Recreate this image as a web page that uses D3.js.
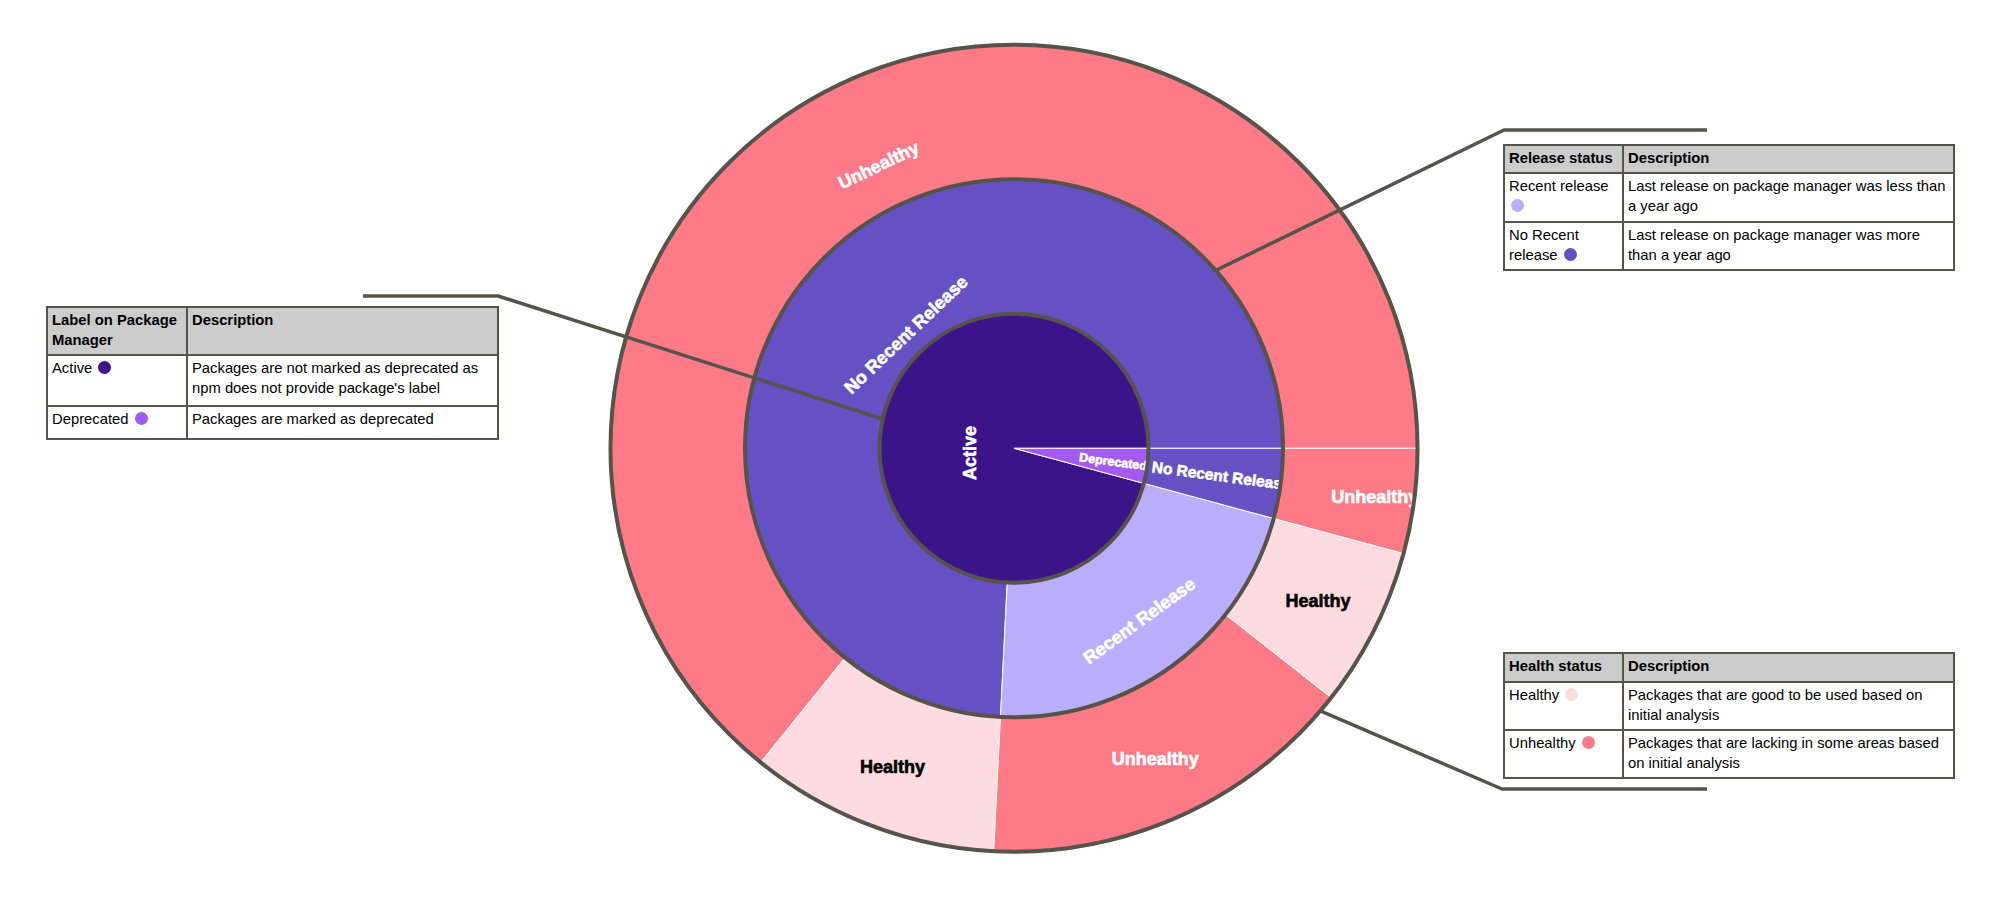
<!DOCTYPE html>
<html>
<head>
<meta charset="utf-8">
<script src="https://cdn.jsdelivr.net/npm/d3@7"></script>
<style>
  html, body { margin: 0; padding: 0; background: #fff; }
  #wrap { position: relative; width: 1999px; height: 919px; overflow: hidden; }
  svg { position: absolute; left: 0; top: 0; }
  table.legend {
    position: absolute;
    border-collapse: collapse;
    table-layout: fixed;
    font-family: "Liberation Sans", Arial, sans-serif;
    font-size: 14.8px;
    line-height: 20px;
    color: #000;
    background: #fff;
  }
  table.legend th, table.legend td {
    border: 2px solid #55534a;
    padding: 2px 4px;
    vertical-align: top;
    text-align: left;
    box-sizing: border-box;
  }
  table.legend th { background: #cccccc; font-weight: bold; }
  .dot { display: inline-block; width: 13px; height: 13px; border-radius: 50%; vertical-align: -1px; margin-left: 2px; }
</style>
</head>
<body>
<div id="wrap">
  <svg id="chart"></svg>
</div>
<script>
// Data: share of packages (%) per path
const PATHS = [
    ['Active', 'No Recent Release', 'Unhealthy'],
    ['Active', 'No Recent Release', 'Healthy'],
    ['Active', 'Recent Release', 'Unhealthy'],
    ['Active', 'Recent Release', 'Healthy'],
    ['Deprecated', 'No Recent Release', 'Unhealthy']
];
const VALUES = [64.2, 10.0, 15.2, 6.4, 4.2];

const COLORS = {
    'Active': '#3c1489',
    'Deprecated': '#a25af3',
    'No Recent Release': '#6551c3',
    'Recent Release': '#baaefc',
    'Unhealthy': '#fe7a87',
    'Healthy': '#fedbdf'
};

// Legend tables
const PKG_HEAD = ['Label on Package Manager', 'Description'];
const PKG_ROWS = [
    ['Active', 'Packages are not marked as deprecated as npm does not provide package\'s label', 'Active'],
    ['Deprecated', 'Packages are marked as deprecated', 'Deprecated']
];
const REL_HEAD = ['Release status', 'Description'];
const REL_ROWS = [
    ['Recent release', 'Last release on package manager was less than a year ago', 'Recent Release'],
    ['No Recent release', 'Last release on package manager was more than a year ago', 'No Recent Release']
];
const HEALTH_HEAD = ['Health status', 'Description'];
const HEALTH_ROWS = [
    ['Healthy', 'Packages that are good to be used based on initial analysis', 'Healthy'],
    ['Unhealthy', 'Packages that are lacking in some areas based on initial analysis', 'Unhealthy']
];

// Setup
const width = 1999, height = 919;
const cx = 1014, cy = 448.3, R = 403.5;
const lineColor = '#55534a';

const svg = d3.select('#chart').attr('width', width).attr('height', height);
const g = svg.append('g').attr('transform', `translate(${cx},${cy})`);

// hierarchy from the paths
const rows = PATHS.map((p, i) => ({path: p, value: VALUES[i]}));
const grouped = d3.group(rows, d => d.path[0], d => d.path[1], d => d.path[2]);
const root = d3.hierarchy(grouped, ([, v]) => v instanceof Map ? Array.from(v) : undefined)
    .sum(([, v]) => Array.isArray(v) ? d3.sum(v, d => d.value) : 0)
    .sort((a, b) => b.value - a.value);

// partition runs counter-clockwise from 3 o'clock
d3.partition().size([2 * Math.PI, 4])(root);
const r = d3.scaleLinear().domain([1, 4]).range([0, R]);

const nodes = root.descendants().filter(d => d.depth > 0);
const nameOf = d => d.data[0];
const idOf = d => d.ancestors().reverse().slice(1).map(nameOf).join('/');

const arc = d3.arc()
    .startAngle(d => Math.PI / 2 - d.x1)
    .endAngle(d => Math.PI / 2 - d.x0)
    .innerRadius(d => r(d.y0))
    .outerRadius(d => r(d.y1));

const defs = svg.append('defs');
nodes.forEach((d, i) => {
    d.clipId = 'clip' + i;
    defs.append('clipPath').attr('id', d.clipId)
        .append('path').attr('d', arc(d));
});

g.append('g').selectAll('path')
    .data(nodes)
    .join('path')
    .attr('d', arc)
    .attr('fill', d => COLORS[nameOf(d)])
    .attr('stroke', '#fff')
    .attr('stroke-width', 1);

// label placement (screen angle clockwise from east)
const LABEL_SPEC = {
    'Active': {r: 45, a: 174, rot: -90, size: 18},
    'Deprecated': {r: 100, rot: 'rad', size: 12.5},
    'Deprecated/No Recent Release': {r: 209, rot: 'rad', size: 15.5},
    'Deprecated/No Recent Release/Unhealthy': {r: 364, rot: 'h', size: 18},
    'Active/Recent Release': {r: 213, rot: 'tan', size: 18},
    'Active/No Recent Release': {r: 157, rot: 'tan', size: 18},
    'Active/Recent Release/Healthy': {r: 340, rot: 'h', size: 18, fill: '#000'},
    'Active/Recent Release/Unhealthy': {r: 341, rot: 'h', size: 18},
    'Active/No Recent Release/Healthy': {r: 341, rot: 'h', size: 18, fill: '#000'},
    'Active/No Recent Release/Unhealthy': {r: 314, rot: 'tan', size: 18}
};

function upright(a) {
    a = ((a % 360) + 360) % 360;
    if (a > 90 && a < 270) a -= 180;
    else if (a >= 270) a -= 360;
    return a;
}

const labels = g.append('g')
    .attr('font-family', '"Liberation Sans", Arial, sans-serif')
    .attr('font-weight', 'bold')
    .attr('text-anchor', 'middle');

nodes.forEach(d => {
    const s = LABEL_SPEC[idOf(d)];
    if (!s) return;
    const mid = 360 - ((d.x0 + d.x1) / 2) * 180 / Math.PI;
    const ang = s.a !== undefined ? s.a : mid;
    const rad = ang * Math.PI / 180;
    const x = s.r * Math.cos(rad), y = s.r * Math.sin(rad);
    let rot = 0;
    if (s.rot === 'rad') rot = upright(ang);
    else if (s.rot === 'tan') rot = upright(ang + 90);
    else if (typeof s.rot === 'number') rot = s.rot;
    const fill = s.fill || '#fff';
    labels.append('g')
        .attr('clip-path', `url(#${d.clipId})`)
        .append('text')
        .attr('transform', `translate(${x},${y}) rotate(${rot})`)
        .attr('dy', '0.35em')
        .attr('font-size', s.size)
        .attr('fill', fill)
        .attr('stroke', fill)
        .attr('stroke-width', 0.6)
        .text(nameOf(d));
});

// ring outlines
g.append('g').selectAll('circle')
    .data([2, 3, 4])
    .join('circle')
    .attr('r', d => r(d))
    .attr('fill', 'none')
    .attr('stroke', lineColor)
    .attr('stroke-width', 4);

// leader lines: elbow points, then ring edge at given angle
function ringPoint(depth, angDeg) {
    const a = angDeg * Math.PI / 180;
    return [cx + r(depth + 1) * Math.cos(a), cy + r(depth + 1) * Math.sin(a)];
}
const leaders = [
    [[363, 296], [498, 296], ringPoint(1, 192.6)],
    [[1707, 130], [1504, 130], ringPoint(2, 318.6)],
    [[1707, 789], [1502, 789], ringPoint(3, 40.6)]
];
svg.append('g').selectAll('path')
    .data(leaders)
    .join('path')
    .attr('d', d3.line())
    .attr('fill', 'none')
    .attr('stroke', lineColor)
    .attr('stroke-width', 3.5)
    .attr('stroke-linejoin', 'round');

// legend tables
function legendTable(head, body, left, top, cols, rowH) {
    const t = d3.select('#wrap').append('table')
        .attr('class', 'legend')
        .style('left', left + 'px')
        .style('top', top + 'px')
        .style('width', d3.sum(cols) + 'px');
    const cg = t.append('colgroup');
    cols.forEach(w => cg.append('col').style('width', w + 'px'));
    t.append('tr').style('height', rowH[0] + 'px')
        .selectAll('th').data(head).join('th').text(d => d);
    body.forEach((row, i) => {
        const tr = t.append('tr').style('height', rowH[i + 1] + 'px');
        const c1 = tr.append('td');
        c1.append('span').text(row[0] + ' ');
        c1.append('span').attr('class', 'dot').style('background', COLORS[row[2]]);
        tr.append('td').text(row[1]);
    });
}

legendTable(PKG_HEAD, PKG_ROWS, 46, 306, [140, 311], [48, 51, 33]);
legendTable(REL_HEAD, REL_ROWS, 1503, 144, [119, 331], [28, 49, 48]);
legendTable(HEALTH_HEAD, HEALTH_ROWS, 1503, 652, [119, 331], [29, 48, 48]);
</script>
</body>
</html>
